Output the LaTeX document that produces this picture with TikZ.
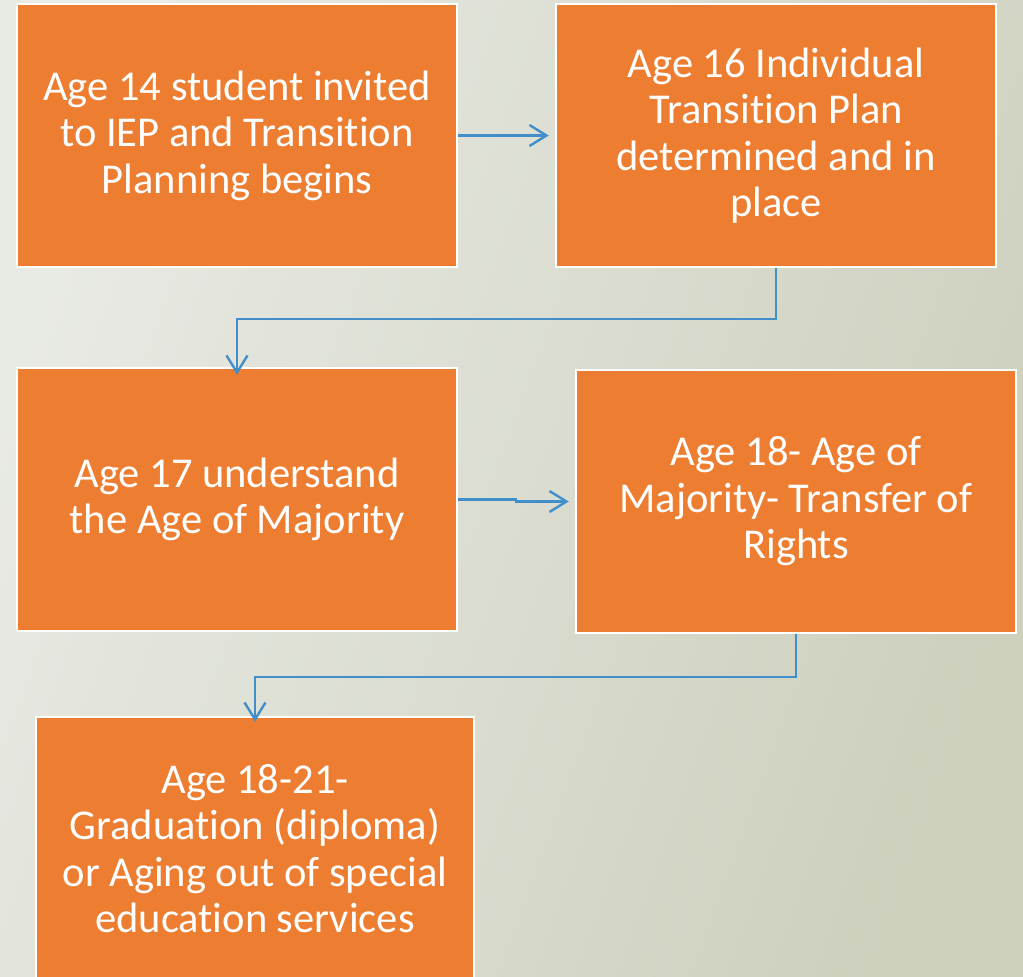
\documentclass[tikz,border=0pt]{standalone}
\usepackage{fontspec}
\setmainfont{Carlito}[Ligatures=NoCommon]
\usetikzlibrary{arrows.meta}
\definecolor{boxorange}{HTML}{ED7D31}
\definecolor{flowblue}{RGB}{64,143,203}
\definecolor{bglight}{HTML}{E8EAE4}
\definecolor{bgdark}{HTML}{CDD0BD}
\tikzset{
  stagebox/.style={rectangle, fill=boxorange, draw=white, line width=2.5pt,
    minimum width=440pt, minimum height=263pt, inner sep=0pt,
    text=white, align=center, font=\fontsize{42.5}{46.5}\selectfont},
  flow/.style={draw=flowblue, line width=2.4pt,
    -{Straight Barb[length=17pt,width=21pt]}}
}
\begin{document}
\begin{tikzpicture}[x=1pt,y=-1pt]
  % page frame and soft backdrop
  \useasboundingbox (0,0) rectangle (1023,977);
  \shade[left color=bglight, right color=bgdark, shading angle=70] (0,0) rectangle (1023,977);
  \begin{scope}
    \clip (0,0) rectangle (1023,977);
    \node[stagebox] (s14) at (237,135.5) {Age 14 student invited\\to IEP and Transition\\Planning begins};
    \node[stagebox] (s16) at (776,135.5) {Age 16 Individual\\Transition Plan\\determined and in\\place};
    \node[stagebox] (s17) at (237,499.5) {Age 17 understand\\the Age of Majority};
    \node[stagebox] (s18) at (796,501.5) {Age 18- Age of\\Majority- Transfer of\\Rights};
    \node[stagebox, minimum width=438pt] (s21) at (255,848.5) {Age 18-21-\\Graduation (diploma)\\or Aging out of special\\education services};
  \end{scope}
  % connectors between stages
  \coordinate (j1) at (516,0);
  \draw[flow] (s14.east) -- ([xshift=-6pt]s16.west);
  \draw[flow] (s16.south) -- ++(0,51) -| ([yshift=-8pt]s17.north);
  \draw[flow] (s17.east) -- (s17.east -| j1) |- ([xshift=-6pt]s18.west);
  \draw[flow] (s18.south) -- ++(0,43) -| ([yshift=-6pt]s21.north);
\end{tikzpicture}
\end{document}
